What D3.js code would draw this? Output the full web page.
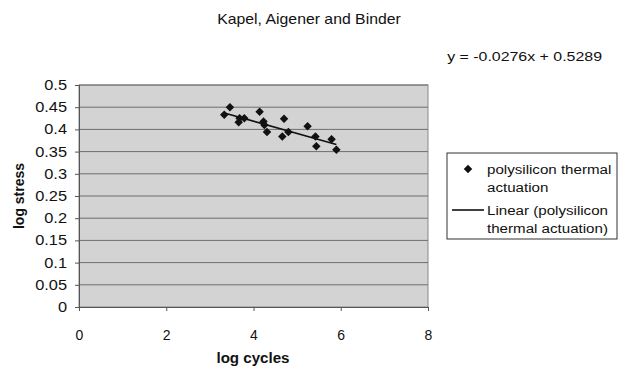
<!DOCTYPE html>
<html lang="en">
<head>
<meta charset="UTF-8">
<script src="https://d3js.org/d3.v7.min.js"></script>
<title>Kapel, Aigener and Binder</title>
<style>
  body { margin: 0; background: #fff; }
  text { font-family: "Liberation Sans", Arial, sans-serif; fill: #111; }
</style>
</head>
<body>
<svg width="625" height="370" id="chart"></svg>
<script>
// data
const logCycles = [3.33, 3.46, 3.66, 3.68, 3.79, 4.14, 4.23, 4.25, 4.31, 4.70, 4.66, 4.80, 5.24, 5.42, 5.44, 5.79, 5.90];
const logStress = [0.433, 0.450, 0.416, 0.425, 0.425, 0.440, 0.418, 0.410, 0.394, 0.424, 0.384, 0.394, 0.407, 0.384, 0.362, 0.378, 0.354];
const slope = -0.0276, intercept = 0.5289;
const xTicks = [0, 2, 4, 6, 8];
const yTicks = [0, 0.05, 0.1, 0.15, 0.2, 0.25, 0.3, 0.35, 0.4, 0.45, 0.5];

let svg = d3.select("#chart");

// the scan's lettering is a bit wider than Arial, so stretch text sideways
function stretch(sel, k) {
  sel.each(function () {
    let t = d3.select(this);
    let x = +t.attr("x") || 0;
    t.attr("x", x / k).attr("transform", `scale(${k},1)`);
  });
}

let x = d3.scaleLinear().domain([0, 8]).range([79, 428]);
let y = d3.scaleLinear().domain([0, 0.5]).range([307, 85]);

// plot area
svg.append("rect")
  .attr("x", x(0)).attr("y", y(0.5))
  .attr("width", x(8) - x(0)).attr("height", y(0) - y(0.5))
  .attr("fill", "#d3d3d3").attr("stroke", "#888").attr("stroke-width", 1);

// gridlines
svg.append("g").selectAll("line").data(yTicks.slice(1)).join("line")
  .attr("x1", x(0)).attr("x2", x(8))
  .attr("y1", d => y(d)).attr("y2", d => y(d))
  .attr("stroke", "#6e6e6e").attr("stroke-width", 1);

// axes
let xAxis = svg.append("g").attr("transform", `translate(0,${y(0)})`)
  .call(d3.axisBottom(x).tickValues(xTicks).tickFormat(d3.format("d")).tickSize(4).tickPadding(19));
let yAxis = svg.append("g").attr("transform", `translate(${x(0)},0)`)
  .call(d3.axisLeft(y).tickValues(yTicks).tickFormat(d => String(d)).tickSize(4).tickPadding(8));
[xAxis, yAxis].forEach(a => {
  a.select(".domain").attr("stroke", "#555");
  a.selectAll(".tick line").attr("stroke", "#555");
  a.selectAll("text").attr("font-family", "Liberation Sans, Arial, sans-serif").attr("fill", "#111");
});
xAxis.selectAll("text").attr("font-size", 14);
yAxis.selectAll("text").attr("font-size", 14);
stretch(yAxis.selectAll("text"), 1.17);

// trend line
let lx = d3.extent(logCycles);
svg.append("line")
  .attr("x1", x(lx[0])).attr("y1", y(slope * lx[0] + intercept))
  .attr("x2", x(lx[1])).attr("y2", y(slope * lx[1] + intercept))
  .attr("stroke", "#111").attr("stroke-width", 1.6);

// points
let diamond = d3.symbol().type(d3.symbolDiamond2).size(46);
svg.append("g").selectAll("path").data(logCycles).join("path")
  .attr("d", diamond)
  .attr("transform", (d, i) => `translate(${x(d)},${y(logStress[i])})`)
  .attr("fill", "#111");

// titles
let title = svg.append("text").attr("x", 309).attr("y", 24).attr("text-anchor", "middle")
  .attr("font-size", 14).text("Kapel, Aigener and Binder");
stretch(title, 1.13);
let eq = svg.append("text").attr("x", 602).attr("y", 61).attr("text-anchor", "end")
  .attr("font-size", 13.5).text("y = -0.0276x + 0.5289");
stretch(eq, 1.18);
let xt = svg.append("text").attr("x", 253).attr("y", 363).attr("text-anchor", "middle")
  .attr("font-size", 14).attr("font-weight", "bold").text("log cycles");
stretch(xt, 1.08);
svg.append("text").attr("transform", "translate(24,196) rotate(-90)").attr("text-anchor", "middle")
  .attr("font-size", 14).attr("font-weight", "bold").text("log stress");

// legend
let lg = svg.append("g");
lg.append("rect").attr("x", 447).attr("y", 153).attr("width", 170).attr("height", 86)
  .attr("fill", "#fff").attr("stroke", "#333");
lg.append("path").attr("d", diamond).attr("transform", "translate(468,169)").attr("fill", "#111");
lg.append("line").attr("x1", 452).attr("x2", 484).attr("y1", 210).attr("y2", 210)
  .attr("stroke", "#111").attr("stroke-width", 1.6);
const legendLines = [["polysilicon thermal", 487, 174], ["actuation", 487, 192], ["Linear (polysilicon", 487, 215], ["thermal actuation)", 487, 233]];
legendLines.forEach(l => {
  let t = lg.append("text").attr("x", l[1]).attr("y", l[2]).attr("font-size", 13.5).text(l[0]);
  stretch(t, 1.12);
});
</script>
</body>
</html>
